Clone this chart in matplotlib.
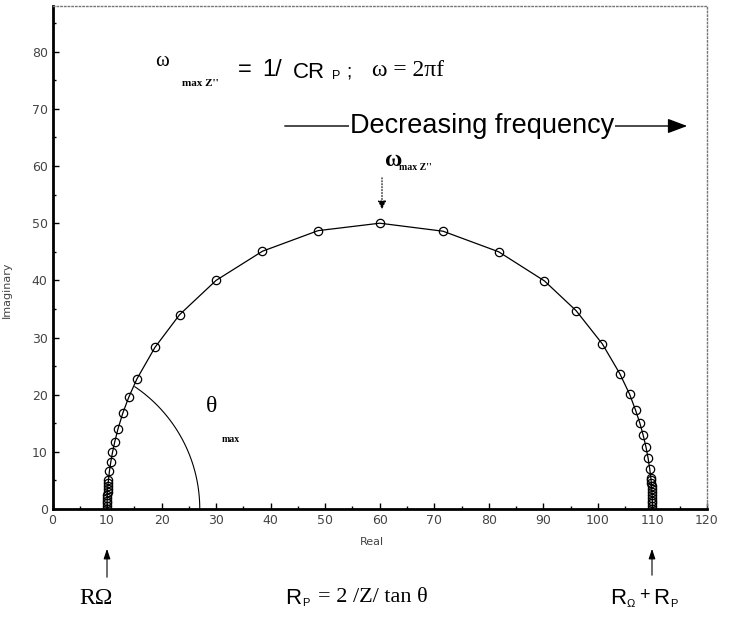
import numpy as np
import matplotlib
matplotlib.use("Agg")
import matplotlib.pyplot as plt
from matplotlib.ticker import MultipleLocator

# impedance data
z_real = [10.00, 10.00, 10.01, 10.02, 10.04, 10.06, 10.09, 10.12, 10.16, 10.20, 10.25,
          10.45, 10.7, 11.0, 11.4, 12.0, 12.9, 14.0, 15.5, 18.8, 23.3, 30.0, 38.5, 48.7,
          60.0, 71.6, 81.8, 90.2, 96.0, 100.8, 104.0, 105.8, 106.9, 107.7, 108.3, 108.8,
          109.2, 109.5, 109.7, 109.75, 109.80, 109.84, 109.88, 109.91, 109.94, 109.96,
          109.98, 109.99, 110.0, 110.0]
z_imag = [0.0, 0.5, 1.0, 1.4, 2.0, 2.5, 3.0, 3.5, 4.0, 4.5, 5.0,
          6.7, 8.3, 9.9, 11.7, 14.0, 16.8, 19.6, 22.8, 28.3, 34.0, 40.0, 45.1, 48.7,
          50.0, 48.6, 45.0, 39.9, 34.7, 28.9, 23.7, 20.1, 17.3, 15.0, 12.9, 10.9,
          8.9, 7.0, 5.5, 5.0, 4.5, 4.0, 3.5, 3.0, 2.5, 2.0,
          1.4, 1.0, 0.5, 0.0]

x_ticks = list(range(0, 121, 10))
y_ticks = list(range(0, 81, 10))

W, H = 733, 622


def px(x, y):
    # pixel position -> figure fraction
    return x / W, 1 - y / H


fig = plt.figure(figsize=(W / 100, H / 100), dpi=100)
ax = fig.add_axes([52.5 / W, 1 - 509 / H, (707 - 52.5) / W, (509 - 6) / H])

ax.plot(z_real, z_imag, color="black", lw=0.9, marker="o", ms=6,
        mfc="none", mec="black", mew=0.9)

# theta_max arc
t = np.linspace(0, np.radians(56), 60)
ax.plot(27 * np.cos(t), 25.8 * np.sin(t), color="black", lw=0.8)

ax.set_xlim(0, 120)
ax.set_ylim(0, 88)
ax.set_xticks(x_ticks)
ax.set_yticks(y_ticks)
ax.xaxis.set_minor_locator(MultipleLocator(5))
ax.yaxis.set_minor_locator(MultipleLocator(5))
ax.tick_params(which="major", direction="in", length=4, width=1,
               labelsize=9, labelcolor="#444444", top=False, right=False)
ax.tick_params(which="minor", direction="in", length=2.5, width=1)
for s in ["top", "right"]:
    ax.spines[s].set_linestyle(":")
    ax.spines[s].set_color("#777777")
    ax.spines[s].set_linewidth(1)
for s in ["left", "bottom"]:
    ax.spines[s].set_linewidth(2)

ax.set_xlabel("Real", fontsize=8, color="#444444")
ax.set_ylabel("Imaginary", fontsize=8, color="#444444")
ax.xaxis.set_label_coords((372 - 52.5) / 654.5, -(537 - 509) / 503)
ax.yaxis.set_label_coords(-(52.5 - 12) / 654.5, (509 - 290) / 503)

serif = "Liberation Serif"
sans = "Liberation Sans"

# top formula
fig.text(*px(155, 62), "ω", family=serif, fontsize=15, va="center")
fig.text(*px(182, 84), "max Z''", family=serif, fontsize=8, weight="bold", va="center")
fig.text(*px(238, 70), "=", family=sans, fontsize=17, va="center")
fig.text(*px(262, 70), "1/", family=sans, fontsize=17, va="center")
fig.text(*px(293, 72), "CR", family=sans, fontsize=16, va="center")
fig.text(*px(332, 76), "P", family=sans, fontsize=9, va="center")
fig.text(*px(346, 72), ";", family=sans, fontsize=14, va="center")
fig.text(*px(372, 70), "ω = 2πf", family=serif, fontsize=17, va="center")

# decreasing frequency arrow
ax.annotate("", xy=px(690, 126), xytext=px(282, 126), xycoords="figure fraction",
            textcoords="figure fraction",
            arrowprops=dict(arrowstyle="-|>,head_length=1.2,head_width=0.45",
                            color="black", lw=1))
fig.text(*px(482, 126), "Decreasing frequency", family=sans, fontsize=19.5,
         ha="center", va="center", bbox=dict(fc="white", ec="none", pad=0.3))

# omega max label with dotted arrow
fig.text(*px(385, 160), "ω", family=serif, fontsize=17, weight="bold", va="center")
fig.text(*px(399, 167), "max Z''", family=serif, fontsize=7, weight="bold", va="center")
ax.annotate("", xy=px(382, 212), xytext=px(382, 175), xycoords="figure fraction",
            textcoords="figure fraction",
            arrowprops=dict(arrowstyle="-|>,head_length=0.5,head_width=0.25",
                            color="black", lw=0.8, ls=":"))

# theta max
fig.text(*px(212, 407), "θ", family=serif, fontsize=17, ha="center", va="center")
fig.text(*px(222, 440), "max", family=serif, fontsize=7, weight="bold", va="center")

# bottom labels with arrows
fig.text(*px(96, 598), "RΩ", family=serif, fontsize=17, ha="center", va="center")
ax.annotate("", xy=px(107, 546), xytext=px(107, 580), xycoords="figure fraction",
            textcoords="figure fraction",
            arrowprops=dict(arrowstyle="-|>,head_length=0.6,head_width=0.2",
                            color="black", lw=0.8))
fig.text(*px(285, 598), "R", family=sans, fontsize=16, va="center")
fig.text(*px(302, 603), "P", family=sans, fontsize=8, va="center")
fig.text(*px(318, 598), "= 2 /Z/ tan θ", family=serif, fontsize=16, va="center")

fig.text(*px(610, 598), "R", family=sans, fontsize=16, va="center")
fig.text(*px(627, 604), "Ω", family=sans, fontsize=8, va="center")
fig.text(*px(639, 595), "+", family=sans, fontsize=13, va="center")
fig.text(*px(653, 598), "R", family=sans, fontsize=16, va="center")
fig.text(*px(670, 604), "P", family=sans, fontsize=8, va="center")
ax.annotate("", xy=px(652, 546), xytext=px(652, 578), xycoords="figure fraction",
            textcoords="figure fraction",
            arrowprops=dict(arrowstyle="-|>,head_length=0.6,head_width=0.2",
                            color="black", lw=0.8))

fig.savefig("out.png", dpi=100)
